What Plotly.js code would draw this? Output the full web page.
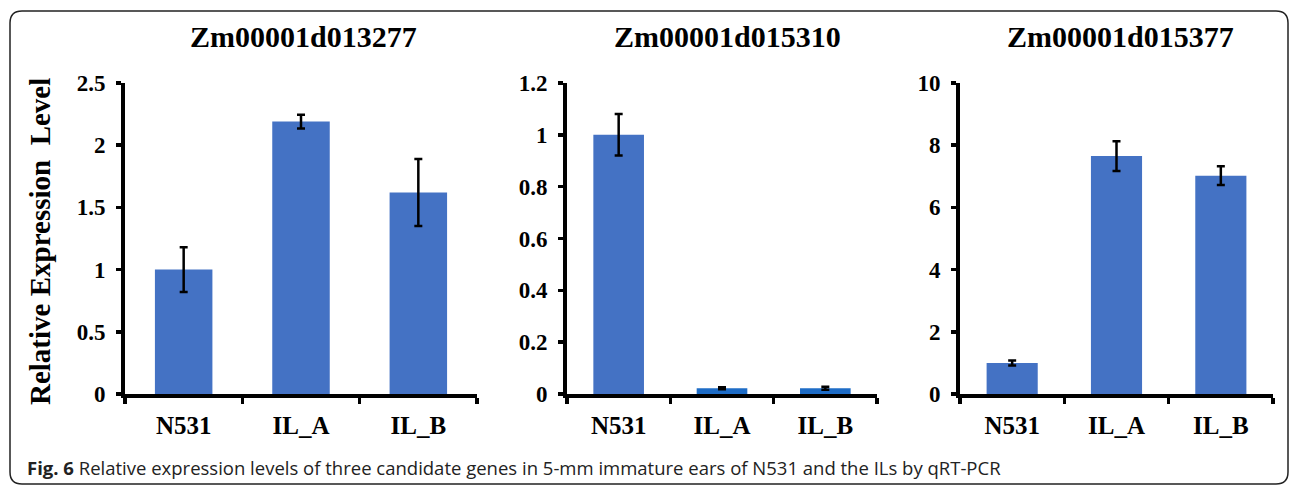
<!DOCTYPE html>
<html>
<head>
<meta charset="utf-8">
<script src="https://cdn.plot.ly/plotly-3.0.1.min.js"></script>
<style>
  html, body { margin: 0; padding: 0; background: #fff; }
  #chart { width: 1290px; height: 485px; }
</style>
</head>
<body>
<div id="chart"></div>
<script>
// ---- data ----
const categories = ["N531", "IL_A", "IL_B"];
const geneNames = ["Zm00001d013277", "Zm00001d015310", "Zm00001d015377"];
const gene1Values = [1.0, 2.19, 1.62];
const gene1Errors = [0.18, 0.055, 0.27];
const gene2Values = [1.0, 0.022, 0.022];
const gene2Errors = [0.08, 0.004, 0.006];
const gene3Values = [1.0, 7.65, 7.02];
const gene3Errors = [0.08, 0.48, 0.30];
const yTitle = "Relative Expression  Level";
const caption = "<b>Fig. 6</b> Relative expression levels of three candidate genes in 5-mm immature ears of N531 and the ILs by qRT-PCR";

// ---- styling ----
const serif = "Liberation Serif, Times New Roman, serif";
const barColor = "#4472C4";
const errStyle = { type: "data", visible: true, color: "#000", thickness: 2.5, width: 4 };

function barTrace(values, errors, xa, ya, colors) {
  return {
    type: "bar",
    x: categories,
    y: values,
    xaxis: xa,
    yaxis: ya,
    width: 0.49,
    marker: { color: colors, line: { width: 0 } },
    error_y: Object.assign({ array: errors }, errStyle),
    hoverinfo: "skip",
    showlegend: false
  };
}

const traces = [
  barTrace(gene1Values, gene1Errors, "x", "y", barColor),
  barTrace(gene2Values, gene2Errors, "x2", "y2", [barColor, "#1E6CC6", "#1E6CC6"]),
  barTrace(gene3Values, gene3Errors, "x3", "y3", barColor)
];

const yDomain = [1 - 394 / 485, 1 - 83 / 485];
const xDomains = [
  [125 / 1290, 477 / 1290],
  [567 / 1290, 877 / 1290],
  [960 / 1290, 1273 / 1290]
];

function xAxis(domain, anchor) {
  return {
    domain: domain,
    anchor: anchor,
    type: "category",
    showline: true,
    linecolor: "#000",
    linewidth: 4,
    ticks: "outside",
    tickson: "boundaries",
    ticklen: 6,
    tickwidth: 3.5,
    tickcolor: "#000",
    ticklabelstandoff: 6,
    showgrid: false,
    zeroline: false,
    tickfont: { family: serif, size: 25, color: "#000", weight: "bold" },
    fixedrange: true
  };
}
function yAxis(range, dtick, anchor) {
  return {
    domain: yDomain,
    anchor: anchor,
    range: range,
    dtick: dtick,
    tick0: 0,
    showline: true,
    linecolor: "#000",
    linewidth: 4,
    ticks: "outside",
    ticklen: 5,
    tickwidth: 3.5,
    tickcolor: "#000",
    ticklabelstandoff: 6,
    showgrid: false,
    zeroline: false,
    tickfont: { family: serif, size: 23, color: "#000", weight: "bold" },
    fixedrange: true
  };
}

const titleX = [303 / 1290, 727 / 1290, 1120 / 1290];
const annotations = geneNames.map((g, i) => ({
  text: "<b>" + g + "</b>",
  xref: "paper", yref: "paper",
  x: titleX[i], y: 1 - 37 / 485,
  xanchor: "center", yanchor: "middle",
  showarrow: false,
  font: { family: serif, size: 30, color: "#000" }
}));
annotations.push({
  text: "<b>" + yTitle + "</b>",
  xref: "paper", yref: "paper",
  x: 40 / 1290, y: 1 - 242 / 485,
  xanchor: "center", yanchor: "middle",
  textangle: -90,
  showarrow: false,
  font: { family: serif, size: 29, color: "#000" }
});
annotations.push({
  text: caption,
  xref: "paper", yref: "paper",
  x: 25 / 1290, y: 1 - 467 / 485,
  xanchor: "left", yanchor: "middle",
  showarrow: false,
  font: { family: "Open Sans, Noto Sans, sans-serif", size: 18.5, color: "#222" }
});

// rounded outer frame
const L = 10, T = 11, R = 1288, B = 484, r = 12;
const framePath = `M ${L + r},${T} L ${R - r},${T} Q ${R},${T} ${R},${T + r} L ${R},${B - r} Q ${R},${B} ${R - r},${B} L ${L + r},${B} Q ${L},${B} ${L},${B - r} L ${L},${T + r} Q ${L},${T} ${L + r},${T} Z`;

const layout = {
  width: 1290,
  height: 485,
  margin: { l: 0, r: 0, t: 0, b: 0 },
  paper_bgcolor: "#fff",
  plot_bgcolor: "rgba(0,0,0,0)",
  showlegend: false,
  xaxis: xAxis(xDomains[0], "y"),
  yaxis: yAxis([0, 2.5], 0.5, "x"),
  xaxis2: xAxis(xDomains[1], "y2"),
  yaxis2: yAxis([0, 1.2], 0.2, "x2"),
  xaxis3: xAxis(xDomains[2], "y3"),
  yaxis3: yAxis([0, 10], 2, "x3"),
  annotations: annotations,
  shapes: [{
    type: "path",
    xref: "paper", yref: "paper",
    path: framePath.replace(/(\d+(?:\.\d+)?),(\d+(?:\.\d+)?)/g, (m, a, b) => (a / 1290) + "," + (1 - b / 485)),
    line: { color: "#222", width: 1.5 },
    fillcolor: "rgba(0,0,0,0)",
    layer: "below"
  }]
};

Plotly.newPlot("chart", traces, layout, { displayModeBar: false, staticPlot: true });
</script>
</body>
</html>
